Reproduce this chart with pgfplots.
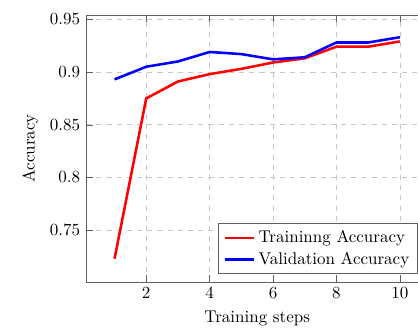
\documentclass[border=0pt]{standalone}
\usepackage{pgfplots}
\pgfplotsset{compat=1.18}
\begin{document}
\begin{tikzpicture}
\begin{axis}[
  scale only axis, width=201.4pt, height=157.1pt,
  xmin=0.1, xmax=10.9, ymin=0.7009, ymax=0.9541,
  xtick={2,4,6,8,10}, ytick={0.75,0.8,0.85,0.9,0.95},
  grid=major, major grid style={dashed, gray!45},
  axis line style={gray!75!black},
  tick style={gray!75!black},
  xlabel={Training steps}, ylabel={Accuracy},
  legend pos=south east, legend cell align=left,
  legend style={draw=gray!75!black},
]
\addplot[red, line width=1.5pt] coordinates {
  (1,0.723) (2,0.875) (3,0.891) (4,0.898) (5,0.903) (6,0.909) (7,0.913) (8,0.924) (9,0.924) (10,0.929)
};
\addlegendentry{Traininng Accuracy}
\addplot[blue, line width=1.5pt] coordinates {
  (1,0.893) (2,0.905) (3,0.910) (4,0.919) (5,0.917) (6,0.912) (7,0.914) (8,0.928) (9,0.928) (10,0.933)
};
\addlegendentry{Validation Accuracy}
\end{axis}
\pgfresetboundingbox
\path[use as bounding box] ([shift={(-50.6pt,-26.5pt)}]current axis.south west) rectangle ([shift={(-6.1pt,8.8pt)}]current axis.north east);
\end{tikzpicture}
\end{document}
